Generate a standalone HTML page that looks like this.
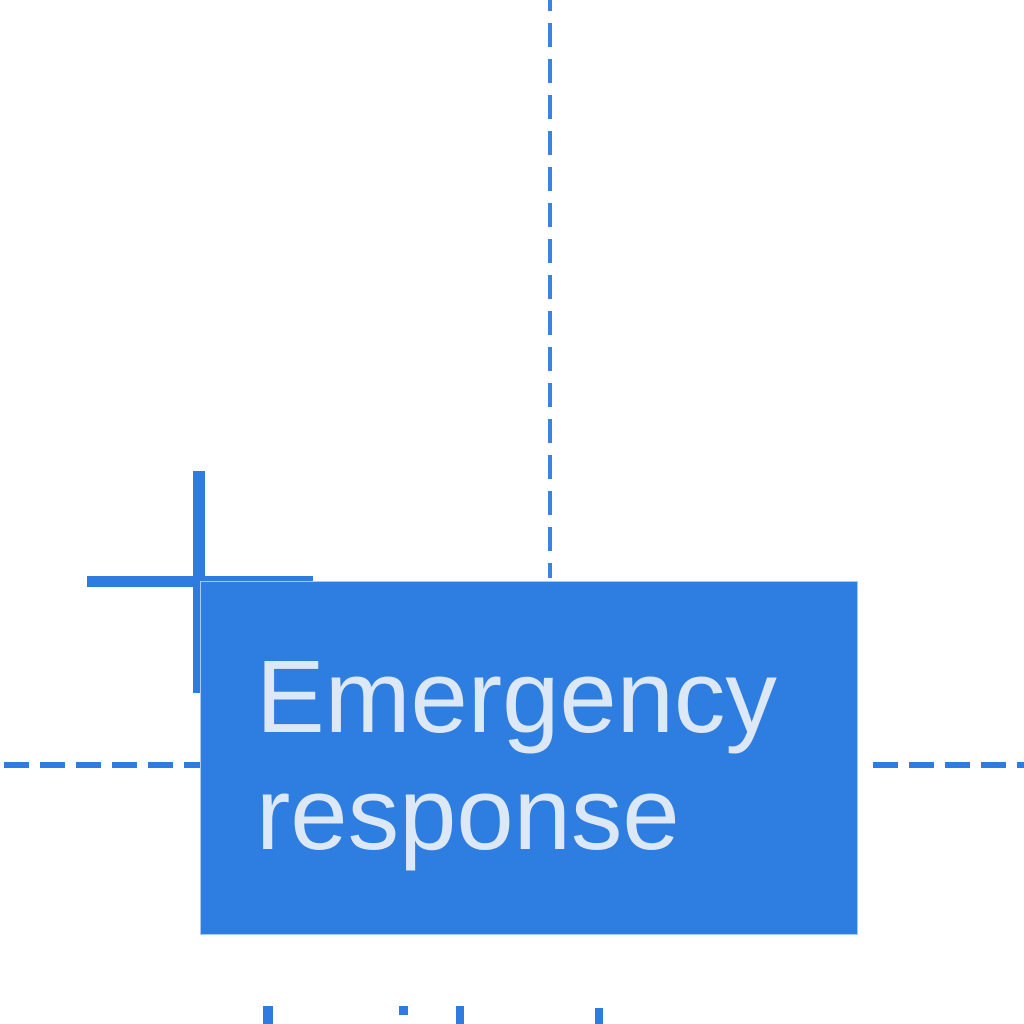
<!DOCTYPE html>
<html><head><meta charset="utf-8"><style>
html,body{margin:0;padding:0;background:#fff;width:1024px;height:1024px;overflow:hidden;position:relative;font-family:"Liberation Sans",sans-serif}
.a{position:absolute;background:#2f7be0}
</style></head><body>
<svg width="1024" height="1024" style="position:absolute;left:0;top:0">
<line x1="550" y1="0" x2="550" y2="578" stroke="#3a82e6" stroke-width="4" stroke-dasharray="24 12" stroke-dashoffset="13"/>
<line x1="4" y1="765" x2="200" y2="765" stroke="#2f7be0" stroke-width="6" stroke-dasharray="25 11"/>
<line x1="873" y1="765" x2="1024" y2="765" stroke="#2f7be0" stroke-width="6" stroke-dasharray="25 11"/>
</svg>
<div class="a" style="left:193px;top:471px;width:12px;height:222px"></div>
<div class="a" style="left:87px;top:576px;width:226px;height:11px"></div>
<div style="position:absolute;left:200px;top:581px;width:656px;height:352px;background:#2e7de0;border:1px solid #a9c9f2"></div>
<div style="position:absolute;left:256px;top:638px;color:#dce8f5;font-size:103px;line-height:117px;letter-spacing:0px">Emergency<br>response</div>
<div class="a" style="left:263px;top:1006px;width:10px;height:18px"></div>
<div class="a" style="left:399px;top:1006px;width:9px;height:9px"></div>
<div class="a" style="left:456px;top:1006px;width:8px;height:18px"></div>
<div class="a" style="left:595px;top:1008px;width:8px;height:16px"></div>
</body></html>
